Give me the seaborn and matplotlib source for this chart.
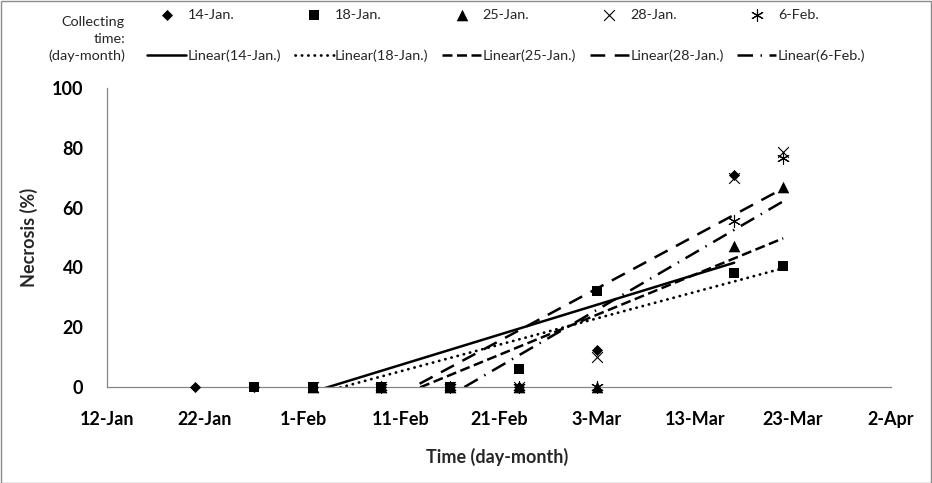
import matplotlib
matplotlib.use('Agg')
import matplotlib.pyplot as plt
import matplotlib.dates as mdates
import seaborn as sns
import numpy as np
from datetime import datetime

# necrosis (%) per collecting date
dates_14jan = ['21-Jan', '27-Jan', '2-Feb', '9-Feb', '16-Feb', '23-Feb', '3-Mar', '17-Mar']
necro_14jan = [0, 0, 0, 0, 0, 0, 12.5, 71]

dates_18jan = ['27-Jan', '2-Feb', '9-Feb', '16-Feb', '23-Feb', '3-Mar', '17-Mar', '22-Mar']
necro_18jan = [0, 0, 0, 0, 6, 32, 38, 40.5]

dates_25jan = ['2-Feb', '9-Feb', '16-Feb', '23-Feb', '3-Mar', '17-Mar', '22-Mar']
necro_25jan = [0, 0, 0, 0, 0, 47, 67]

dates_28jan = ['2-Feb', '9-Feb', '16-Feb', '23-Feb', '3-Mar', '17-Mar', '22-Mar']
necro_28jan = [0, 0, 0, 0, 10, 70, 78.5]

dates_6feb = ['9-Feb', '16-Feb', '23-Feb', '3-Mar', '17-Mar', '22-Mar']
necro_6feb = [0, 0, 0, 0, 55.5, 76.5]

series_names = ['14-Jan.', '18-Jan.', '25-Jan.', '28-Jan.', '6-Feb.']
x_ticks = ['12-Jan', '22-Jan', '1-Feb', '11-Feb', '21-Feb', '3-Mar', '13-Mar', '23-Mar', '2-Apr']
y_ticks = [0, 20, 40, 60, 80, 100]


def to_num(labels):
    return mdates.date2num([datetime.strptime(s + '-2015', '%d-%b-%Y') for s in labels])


sns.set_theme(style='white')
plt.rcParams['font.family'] = ['Lato', 'DejaVu Sans']

fig = plt.figure(figsize=(9.32, 4.83), dpi=100)
ax = fig.add_axes([107 / 932, 96 / 483, 784 / 932, 299 / 483])

series = [
    (dates_14jan, necro_14jan),
    (dates_18jan, necro_18jan),
    (dates_25jan, necro_25jan),
    (dates_28jan, necro_28jan),
    (dates_6feb, necro_6feb),
]
markers = ['D', 's', '^', 'x', (6, 2, 0)]
msizes = [32, 60, 70, 60, 75]
line_styles = [
    '-',
    (0, (0.1, 2.2)),
    (0, (4, 1.8)),
    (0, (5.9, 3.8)),
    (0, (6.2, 3.0, 0.6, 3.0)),
]

point_handles = []
for (d, v), name, mk, ms in zip(series, series_names, markers, msizes):
    filled = mk in ('D', 's', '^')
    sns.scatterplot(
        x=to_num(d), y=v,
        marker=mk, s=ms, color='black',
        edgecolor='black' if filled else None,
        linewidth=0 if filled else 0.8,
        zorder=3, clip_on=False, ax=ax
    )
    point_handles.append(ax.collections[-1])

line_handles = []
for (d, v), name, ls in zip(series, series_names, line_styles):
    kws = dict(lw=1.8, linestyle=ls)
    if ls == line_styles[1]:
        kws['dash_capstyle'] = 'round'
        kws['lw'] = 2.0
    sns.regplot(
        x=to_num(d), y=np.array(v, dtype=float),
        ci=None, scatter=False, truncate=True, color='black',
        line_kws=kws, ax=ax
    )
    line_handles.append(ax.lines[-1])

if ax.get_legend() is not None:
    ax.get_legend().remove()

xt = to_num(x_ticks)
ax.set_xlim(xt[0], xt[-1])
ax.set_ylim(0, 100)
ax.set_xticks(xt)
ax.set_xticklabels(x_ticks)
ax.set_yticks(y_ticks)

axis_grey = '#868686'
for s in ['top', 'right']:
    ax.spines[s].set_visible(False)
for s in ['left', 'bottom']:
    ax.spines[s].set_color(axis_grey)
    ax.spines[s].set_linewidth(0.9)
ax.tick_params(axis='both', direction='out', length=6, width=0.9, color=axis_grey,
               labelsize=13, pad=11, labelcolor='black')
for lab in ax.get_xticklabels() + ax.get_yticklabels():
    lab.set_fontweight('bold')

ax.set_ylabel('Necrosis (%)', fontsize=13, fontweight='bold')
ax.set_xlabel('Time (day-month)', fontsize=13, fontweight='bold')
ax.yaxis.set_label_coords(-0.088, 0.5)
ax.xaxis.set_label_coords(0.497, -0.205)

# legend: markers on top row, trendlines below
leg_handles, leg_labels = [], []
for name, ph, lh in zip(series_names, point_handles, line_handles):
    leg_handles += [ph, lh]
    leg_labels += [name, 'Linear(' + name + ')']
fig.legend(leg_handles, leg_labels, ncol=5, loc='upper left',
           bbox_to_anchor=(147 / 932, 1 - 9 / 483), frameon=False, fontsize=10.4,
           handlelength=2.7, handletextpad=0.1, columnspacing=0.95,
           labelspacing=1.95, borderpad=0, borderaxespad=0, scatterpoints=1)
fig.text(125 / 932, 1 - 39 / 483, 'Collecting\ntime:\n(day-month)', ha='right', va='center',
         fontsize=10.4, linespacing=1.5, multialignment='right')

fig.add_artist(plt.Rectangle((0.0008, 0.001), 0.9984, 0.997, transform=fig.transFigure,
                             fill=False, edgecolor='#8c8c8c', lw=1))

fig.savefig('out.png', dpi=100)
